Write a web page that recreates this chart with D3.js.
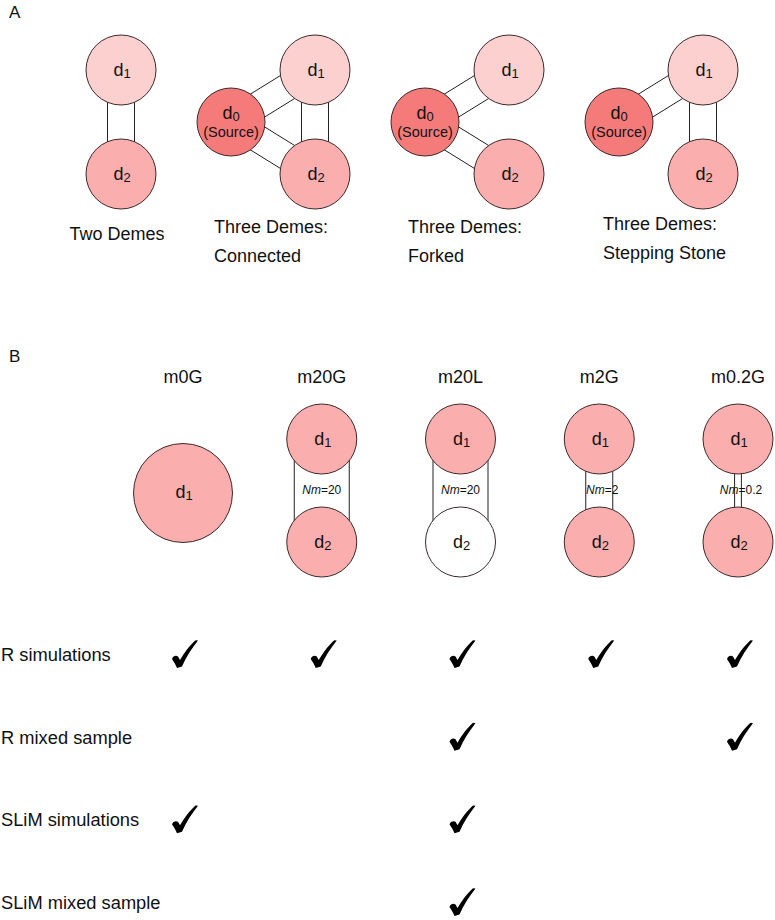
<!DOCTYPE html>
<html>
<head>
<meta charset="utf-8">
<script src="https://cdn.jsdelivr.net/npm/d3@7"></script>
<style>
  html, body { margin: 0; padding: 0; background: #fff; }
  svg { display: block; }
  text { font-family: "Liberation Sans", Arial, sans-serif; fill: #111; }
</style>
</head>
<body>
<svg id="chart" width="775" height="920"></svg>
<script>
// ---------------- DATA ----------------
// Panel A: migration topologies
const topologyNames = ["Two Demes", "Three Demes:\nConnected", "Three Demes:\nForked", "Three Demes:\nStepping Stone"];
const topologyDemes = [["d1", "d2"], ["d0", "d1", "d2"], ["d0", "d1", "d2"], ["d0", "d1", "d2"]];
const topologyLinks = [
  [["d1", "d2"]],
  [["d0", "d1"], ["d0", "d2"], ["d1", "d2"]],
  [["d0", "d1"], ["d0", "d2"]],
  [["d0", "d1"], ["d1", "d2"]]
];
const demeRole = { d0: "source", d1: "upper", d2: "lower" };

// Panel B: models
const models = ["m0G", "m20G", "m20L", "m2G", "m0.2G"];
const modelNm = [null, 20, 20, 2, 0.2];
const modelD2Local = [false, false, true, false, false];
const methods = ["R simulations", "R mixed sample", "SLiM simulations", "SLiM mixed sample"];
// checks[method][model]
const checks = [
  [1, 1, 1, 1, 1],
  [0, 0, 1, 0, 1],
  [1, 0, 1, 0, 0],
  [0, 0, 1, 0, 0]
];

// ---------------- STYLE ----------------
const colSource = "#f57b7b";
const colUpper = "#fdd0d0";
const colLower = "#faaeae";
const colB = "#faaeae";
const stroke = "#3a2a2a";
// check-mark glyph outline (shape template, centred on 0,0)
const checkGlyph = "M-13,5 C-12,2 -9,1 -7,2.5 L-5,6 C-1,-1 5,-9 10.5,-13.8 L13,-13.5 C7,-6 1,3 -3,12.5 L-8,14 C-9.5,10.5 -11,8 -13,5 Z";

const svg = d3.select("#chart");

// ---------------- PANEL A ----------------
svg.append("text").attr("x", 9).attr("y", 18).attr("font-size", 17).text("A");

const roleX = { source: -84, upper: 0, lower: 0 };
const roleY = d3.scalePoint().domain(["upper", "source", "lower"]).range([70, 174]);
const roleFill = { source: colSource, upper: colUpper, lower: colLower };
const topoX = d3.scaleOrdinal().domain(d3.range(topologyNames.length)).range([121, 315, 509, 703]);
const labelX = d3.scaleOrdinal().domain(d3.range(topologyNames.length)).range([117, 214, 408, 603]);

function sub(textSel, base, idx, size, subSize, dy) {
  textSel.append("tspan").text(base).attr("font-size", size);
  textSel.append("tspan").text(idx).attr("font-size", subSize).attr("dy", dy);
}

function parallel(g, x1, y1, x2, y2, off) {
  const dx = x2 - x1, dy = y2 - y1, L = Math.hypot(dx, dy);
  const nx = -dy / L * off, ny = dx / L * off;
  [1, -1].forEach(s => {
    g.append("line")
      .attr("x1", x1 + s * nx).attr("y1", y1 + s * ny)
      .attr("x2", x2 + s * nx).attr("y2", y2 + s * ny)
      .attr("stroke", "#222").attr("stroke-width", 1);
  });
}

topologyNames.forEach((name, i) => {
  const g = svg.append("g");
  const cx = topoX(i);
  const pos = {};
  topologyDemes[i].forEach(d => {
    const role = demeRole[d];
    pos[d] = [cx + roleX[role], roleY(role)];
  });
  topologyLinks[i].forEach(([a, b]) => {
    parallel(g, pos[a][0], pos[a][1], pos[b][0], pos[b][1], 13.5);
  });
  topologyDemes[i].forEach(d => {
    const role = demeRole[d];
    const [x, y] = pos[d];
    g.append("circle").attr("cx", x).attr("cy", y).attr("r", role === "source" ? 34 : 35)
      .attr("fill", roleFill[role]).attr("stroke", stroke).attr("stroke-width", 1);
    if (role === "source") {
      const t = g.append("text").attr("x", x).attr("y", y - 3).attr("text-anchor", "middle");
      sub(t, "d", d.slice(1), 18, 13, 2);
      g.append("text").attr("x", x).attr("y", y + 15).attr("text-anchor", "middle")
        .attr("font-size", 14.5).text("(Source)");
    } else {
      const t = g.append("text").attr("x", x + 1).attr("y", y + 6).attr("text-anchor", "middle");
      sub(t, "d", d.slice(1), 18, 13, 2);
    }
  });
  const lines = name.split("\n");
  const baseY = i === 0 ? 240 : (i === 3 ? 230 : 233);
  lines.forEach((ln, k) => {
    const tx = svg.append("text").attr("font-size", 18)
      .attr("x", labelX(i))
      .attr("y", baseY + k * 28.5)
      .text(ln);
    if (i === 0) tx.attr("text-anchor", "middle");
  });
});

// ---------------- PANEL B ----------------
svg.append("text").attr("x", 9).attr("y", 362).attr("font-size", 17).text("B");

const colX = d3.scalePoint().domain(models).range([183, 738]);
const gapScale = d3.scaleLog().domain([0.2, 2, 20]).range([3.4, 13.5, 27.5]);
const rowY = d3.scalePoint().domain(methods).range([655, 903]);

models.forEach((m, i) => {
  const x = colX(m);
  const g = svg.append("g");
  g.append("text").attr("x", x).attr("y", 383).attr("text-anchor", "middle")
    .attr("font-size", 18).text(m);
  if (modelNm[i] === null) {
    g.append("circle").attr("cx", x).attr("cy", 493).attr("r", 49.5)
      .attr("fill", colB).attr("stroke", stroke);
    const t = g.append("text").attr("x", x + 1).attr("y", 498).attr("text-anchor", "middle");
    sub(t, "d", "1", 18, 13, 2);
    return;
  }
  const y1 = 439, y2 = 542;
  parallel(g, x, y1, x, y2, gapScale(modelNm[i]));
  [[y1, "1", colB], [y2, "2", modelD2Local[i] ? "#ffffff" : colB]].forEach(([y, k, f]) => {
    g.append("circle").attr("cx", x).attr("cy", y).attr("r", 35)
      .attr("fill", f).attr("stroke", stroke);
    const t = g.append("text").attr("x", x + 1).attr("y", y + 6).attr("text-anchor", "middle");
    sub(t, "d", k, 18, 13, 2);
  });
  const nt = g.append("text").attr("x", x + (modelNm[i] < 10 ? 3 : 0)).attr("y", 494)
    .attr("text-anchor", "middle").attr("font-size", 12);
  nt.append("tspan").attr("font-style", "italic").text("Nm");
  nt.append("tspan").text("=" + modelNm[i]);
});

methods.forEach((meth, r) => {
  const y = rowY(meth);
  svg.append("text").attr("x", 1).attr("y", y + 6).attr("font-size", 18.3).text(meth);
  models.forEach((m, c) => {
    if (!checks[r][c]) return;
    svg.append("path")
      .attr("transform", `translate(${colX(m) + 2},${y - 1})`)
      .attr("d", checkGlyph)
      .attr("fill", "#000");
  });
});
</script>
</body>
</html>
